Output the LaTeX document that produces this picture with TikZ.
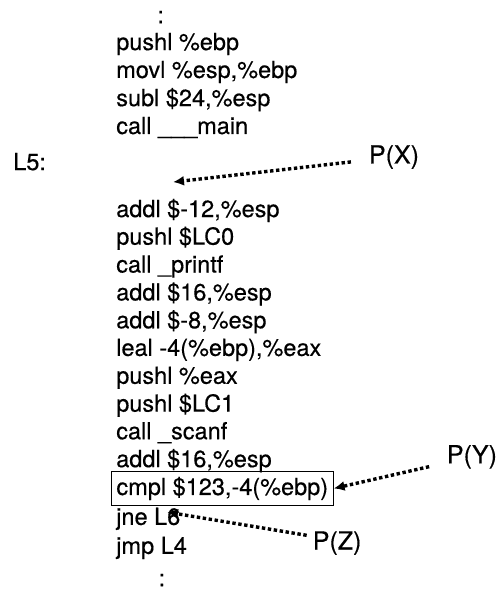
\documentclass[tikz,border=0pt]{standalone}
\usepackage{fontspec}
\setmainfont[FakeBold=0.4]{TeX Gyre Heros}
\usetikzlibrary{arrows.meta}
\newcommand{\asmsize}{\fontsize{23.5}{28}\selectfont}
\newcommand{\plsize}{\fontsize{25}{30}\selectfont}

\begin{document}
\begin{tikzpicture}[
  ln/.style={anchor=base west, inner sep=0pt, font=\asmsize},
  hl/.style={ln, draw, line width=1pt, inner xsep=5pt, inner ysep=5pt},
  dd/.style={inner sep=0pt, font=\asmsize},
  pl/.style={inner sep=2pt, font=\plsize},
  e/.style={-{Latex[length=11pt,width=10pt]}, line width=3.4pt,
            dash pattern=on 3.4pt off 2.6pt, shorten <=16pt},
]
\useasboundingbox (0,0) rectangle (17.54,-20.81);
\node[dd] (dtop) at (5.65,-0.60) {:};
\node[ln] (push1) at (4.08,-1.76) {pushl \%ebp};
\node[ln] (mov1) at (4.08,-2.74) {movl \%esp,\%ebp};
\node[ln] (sub1) at (4.08,-3.73) {subl \$24,\%esp};
\node[ln] (callmain) at (4.08,-4.71) {call \_\_\_main};
\node[ln] (lfive) at (0.46,-5.98) {L5:};
\node[pl] (px) at (13.85,-5.52) {P(X)};
\coordinate (hx) at (6.08,-6.40);
\draw[e] (px) -- (hx);
\node[ln] (add1) at (4.08,-7.63) {addl \$-12,\%esp};
\node[ln] (push2) at (4.08,-8.60) {pushl \$LC0};
\node[ln] (callpf) at (4.08,-9.58) {call \_printf};
\node[ln] (add2) at (4.08,-10.56) {addl \$16,\%esp};
\node[ln] (add3) at (4.08,-11.54) {addl \$-8,\%esp};
\node[ln] (leal) at (4.08,-12.51) {leal -4(\%ebp),\%eax};
\node[ln] (push3) at (4.08,-13.49) {pushl \%eax};
\node[ln] (push4) at (4.08,-14.47) {pushl \$LC1};
\node[ln] (callsf) at (4.08,-15.44) {call \_scanf};
\node[ln] (add4) at (4.08,-16.42) {addl \$16,\%esp};
\node[hl] (cmp) at (3.90,-17.40) {cmpl \$123,-4(\%ebp)};
\node[pl] (py) at (16.59,-16.06) {P(Y)};
\draw[e] (py) -- (cmp.east);
\node[ln] (jne) at (4.08,-18.45) {jne L6};
\node[ln] (jmp) at (4.08,-19.47) {jmp L4};
\node[pl] (pz) at (11.85,-19.09) {P(Z)};
\coordinate (hz) at (5.87,-18.00);
\draw[e, shorten <=4pt] (pz.165) -- (hz);
\node[dd] (dbot) at (5.69,-20.39) {:};
\end{tikzpicture}
\end{document}
